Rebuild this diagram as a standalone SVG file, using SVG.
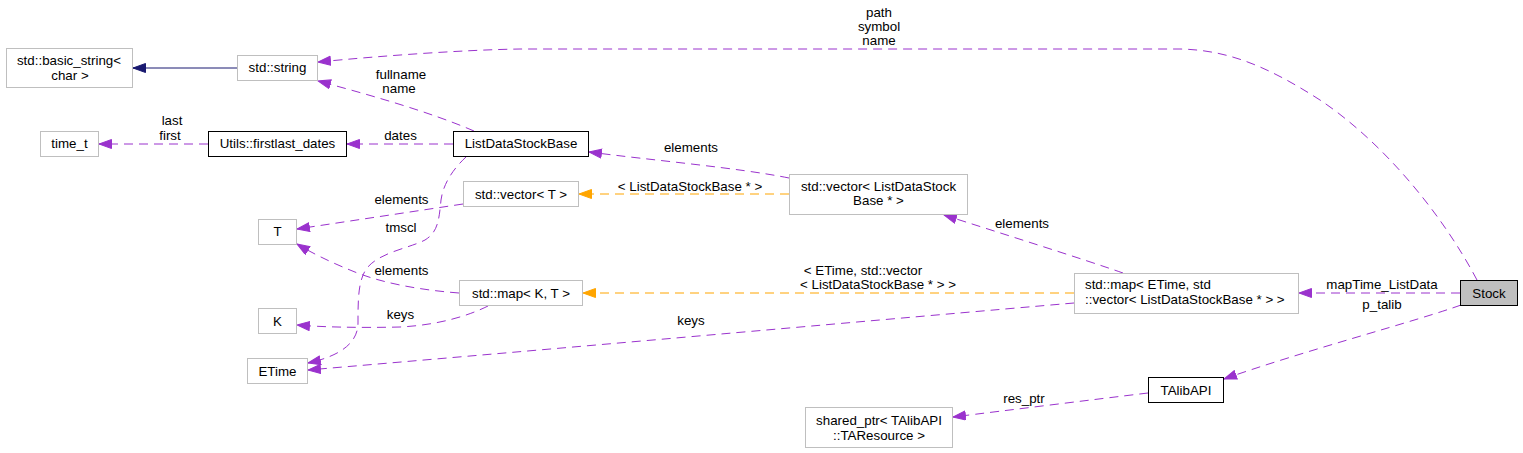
<svg xmlns="http://www.w3.org/2000/svg" width="1523" height="453" viewBox="0 0 1523 453">
<style>
text{font-family:"Liberation Sans",Arial,sans-serif;font-size:13.33px;fill:#000}
.c{text-anchor:middle}
.n{fill:#fff;stroke:#bfbfbf;stroke-width:1}
.d{fill:#fff;stroke:#000;stroke-width:1}
.s{fill:#bfbfbf;stroke:#000;stroke-width:1}
.e{fill:none;stroke:#9a32cd;stroke-width:1;stroke-dasharray:9,6}
.o{fill:none;stroke:#ffa500;stroke-width:1;stroke-dasharray:9,6}
.b{fill:none;stroke:#191970;stroke-width:1}
</style>
<defs>
<marker id="ap" markerUnits="userSpaceOnUse" markerWidth="14" markerHeight="11" refX="13" refY="5" orient="auto"><path d="M0.5,0.5 L13,5 L0.5,9.5 z" fill="#9a32cd" stroke="#9a32cd"/></marker>
<marker id="ao" markerUnits="userSpaceOnUse" markerWidth="14" markerHeight="11" refX="13" refY="5" orient="auto"><path d="M0.5,0.5 L13,5 L0.5,9.5 z" fill="#ffa500" stroke="#ffa500"/></marker>
<marker id="ab" markerUnits="userSpaceOnUse" markerWidth="14" markerHeight="11" refX="13" refY="5" orient="auto"><path d="M0.5,0.5 L13,5 L0.5,9.5 z" fill="#191970" stroke="#191970"/></marker>
</defs>
<g id="connectors">
<path class="b" d="M237,68 L133,68" marker-end="url(#ab)"/>
<path class="e" d="M1477,280 C1440,210 1380,140 1320,100 C1270,68 1230,50 1180,49 L520,49 C460,50 380,56 318,62" marker-end="url(#ap)"/>
<path class="e" d="M474,131 C430,112 370,95 318,81" marker-end="url(#ap)"/>
<path class="e" d="M208,144 L99,144" marker-end="url(#ap)"/>
<path class="e" d="M453,144 L347,144" marker-end="url(#ap)"/>
<path class="e" d="M789,178 C740,168 650,160 589,152" marker-end="url(#ap)"/>
<path class="o" d="M789,194 L579,194" marker-end="url(#ao)"/>
<path class="e" d="M463,204 L297,229" marker-end="url(#ap)"/>
<path class="e" d="M466,157 C452,170 443,185 441,200 C439,220 438,232 425,240 C410,248 380,252 367,268 C358,280 358,300 358,323 C358,340 345,355 308,363" marker-end="url(#ap)"/>
<path class="e" d="M459,293 C420,290 380,283 350,270 C330,262 310,252 297,244" marker-end="url(#ap)"/>
<path class="e" d="M488,306 C470,315 440,325 400,327 C360,328 320,327 297,325" marker-end="url(#ap)"/>
<path class="e" d="M1123,273 C1080,258 1000,233 944,215" marker-end="url(#ap)"/>
<path class="o" d="M1074,293 L583,293" marker-end="url(#ao)"/>
<path class="e" d="M1074,303 C900,318 600,345 308,370" marker-end="url(#ap)"/>
<path class="e" d="M1460,293 L1299,293" marker-end="url(#ap)"/>
<path class="e" d="M1461,305 C1420,320 1300,352 1224,379" marker-end="url(#ap)"/>
<path class="e" d="M1148,393 C1090,400 1010,410 953,417" marker-end="url(#ap)"/>
<text class="c" x="879" y="17">path</text>
<text class="c" x="879" y="31">symbol</text>
<text class="c" x="879" y="45">name</text>
<text class="c" x="401" y="79">fullname</text>
<text class="c" x="399" y="93">name</text>
<text class="c" x="172" y="124.5">last</text>
<text class="c" x="170" y="140">first</text>
<text class="c" x="400.5" y="140">dates</text>
<text class="c" x="691" y="152">elements</text>
<text class="c" x="690" y="191">&lt; ListDataStockBase * &gt;</text>
<text class="c" x="401.5" y="204">elements</text>
<text class="c" x="401" y="232">tmscl</text>
<text class="c" x="1022" y="228">elements</text>
<text class="c" x="401.5" y="275">elements</text>
<text class="c" x="863" y="275">&lt; ETime, std::vector</text>
<text class="c" x="878" y="289">&lt; ListDataStockBase * &gt; &gt;</text>
<text class="c" x="1382" y="289">mapTime_ListData</text>
<text class="c" x="1382" y="309">p_talib</text>
<text class="c" x="400.5" y="319">keys</text>
<text class="c" x="691" y="325">keys</text>
<text class="c" x="1024" y="403">res_ptr</text>
</g>
<g id="node-basic_string"><rect class="n" x="6.5" y="48.5" width="126" height="39"/><text class="c" x="69" y="65">std::basic_string&lt;</text><text class="c" x="70" y="80">char &gt;</text></g>
<g id="node-std_string"><rect class="n" x="237.5" y="55.5" width="80" height="25"/><text class="c" x="277.5" y="72">std::string</text></g>
<g id="node-time_t"><rect class="n" x="40.5" y="131.5" width="58" height="25"/><text class="c" x="69.5" y="148">time_t</text></g>
<g id="node-firstlast_dates"><rect class="d" x="208.5" y="131.5" width="138" height="25"/><text class="c" x="277.5" y="148">Utils::firstlast_dates</text></g>
<g id="node-ListDataStockBase"><rect class="d" x="453.5" y="131.5" width="135" height="25"/><text class="c" x="521" y="148">ListDataStockBase</text></g>
<g id="node-vector_T"><rect class="n" x="463.5" y="181.5" width="115" height="25"/><text class="c" x="521" y="198.5">std::vector&lt; T &gt;</text></g>
<g id="node-vector_LDSB"><rect class="n" x="789.5" y="174.5" width="178" height="40"/><text class="c" x="878.5" y="191">std::vector&lt; ListDataStock</text><text class="c" x="878.5" y="205">Base * &gt;</text></g>
<g id="node-T"><rect class="n" x="258.5" y="219.5" width="38" height="25"/><text class="c" x="277.5" y="236">T</text></g>
<g id="node-map_KT"><rect class="n" x="459.5" y="280.5" width="123" height="25"/><text class="c" x="521" y="297.5">std::map&lt; K, T &gt;</text></g>
<g id="node-K"><rect class="n" x="258.5" y="308.5" width="38" height="25"/><text class="c" x="277.5" y="325.5">K</text></g>
<g id="node-ETime"><rect class="n" x="247.5" y="358.5" width="60" height="25"/><text class="c" x="277.5" y="375.5">ETime</text></g>
<g id="node-map_ETime"><rect class="n" x="1074.5" y="273.5" width="224" height="40"/><text x="1085" y="289">std::map&lt; ETime, std</text><text x="1085" y="304">::vector&lt; ListDataStockBase * &gt; &gt;</text></g>
<g id="node-Stock"><rect class="s" x="1460.5" y="280.5" width="57" height="25"/><text class="c" x="1489" y="297.5">Stock</text></g>
<g id="node-TAlibAPI"><rect class="d" x="1148.5" y="377.5" width="75" height="25"/><text class="c" x="1186" y="394.5">TAlibAPI</text></g>
<g id="node-shared_ptr"><rect class="n" x="805.5" y="407.5" width="147" height="40"/><text class="c" x="879" y="424.5">shared_ptr&lt; TAlibAPI</text><text class="c" x="879" y="439.5">::TAResource &gt;</text></g>
</svg>
